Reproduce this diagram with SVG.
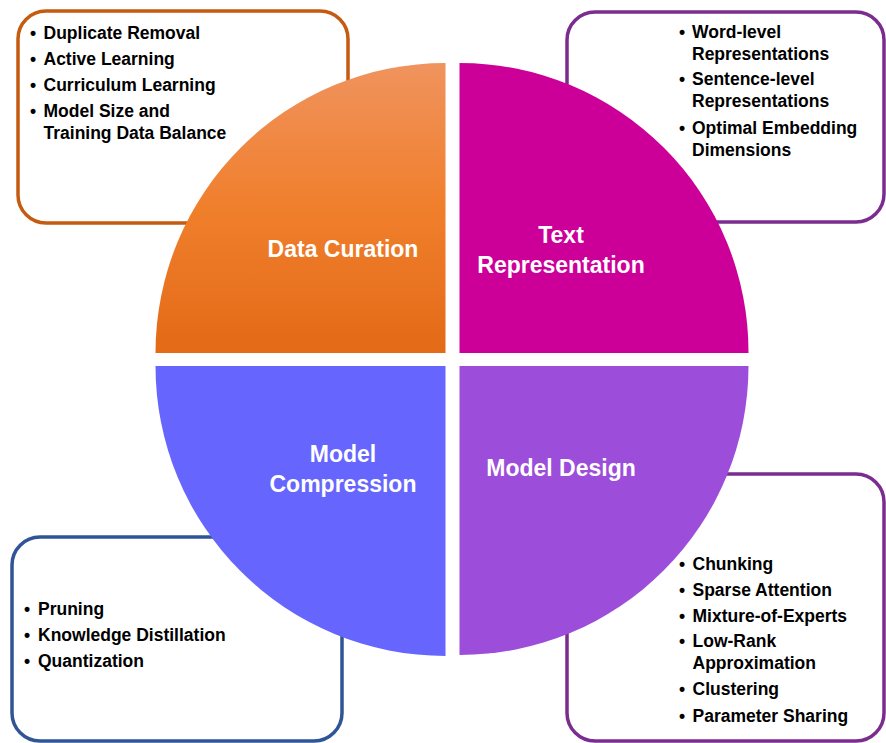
<svg xmlns="http://www.w3.org/2000/svg" width="886" height="743" viewBox="0 0 886 743">
<defs>
<linearGradient id="gOrange" x1="0" y1="63" x2="0" y2="353" gradientUnits="userSpaceOnUse">
<stop offset="0" stop-color="#F0935E"/>
<stop offset="0.5" stop-color="#F07F2C"/>
<stop offset="1" stop-color="#E36A17"/>
</linearGradient>
<style>
.box{fill:#FFFFFF;stroke-width:3.5}
.item{font-family:"Liberation Sans",Arial,sans-serif;font-weight:bold;font-size:17.5px;fill:#000000}
.bul{font-family:"Liberation Sans",Arial,sans-serif;font-weight:bold;font-size:17.5px;fill:#000000;text-anchor:middle}
.lbl{font-family:"Liberation Sans",Arial,sans-serif;font-weight:bold;font-size:23px;fill:#FFFFFF;text-anchor:middle}
</style>
</defs>
<rect x="0" y="0" width="886" height="743" fill="#FFFFFF"/>

<g id="box-data-curation">
<rect class="box" x="18" y="11" width="330" height="212" rx="28" stroke="#C55A11"/>
<text class="bul" x="33" y="38.5">•</text><text class="item" x="43.5" y="38.5">Duplicate Removal</text>
<text class="bul" x="33" y="64.5">•</text><text class="item" x="43.5" y="64.5">Active Learning</text>
<text class="bul" x="33" y="90.5">•</text><text class="item" x="43.5" y="90.5">Curriculum Learning</text>
<text class="bul" x="33" y="116.5">•</text><text class="item" x="43.5" y="116.5">Model Size and</text>
<text class="item" x="43.5" y="138.5">Training Data Balance</text>
</g>

<g id="box-text-representation">
<rect class="box" x="567" y="12" width="317" height="210" rx="28" stroke="#7A2D8F"/>
<text class="bul" x="682" y="37.5">•</text><text class="item" x="692" y="37.5">Word-level</text>
<text class="item" x="692" y="59.5">Representations</text>
<text class="bul" x="682" y="85">•</text><text class="item" x="692" y="85">Sentence-level</text>
<text class="item" x="692" y="107">Representations</text>
<text class="bul" x="682" y="133.5">•</text><text class="item" x="692" y="133.5">Optimal Embedding</text>
<text class="item" x="692" y="155.5">Dimensions</text>
</g>

<g id="box-model-compression">
<rect class="box" x="12" y="537" width="330" height="204" rx="28" stroke="#2F5597"/>
<text class="bul" x="27" y="615">•</text><text class="item" x="38" y="615">Pruning</text>
<text class="bul" x="27" y="641">•</text><text class="item" x="38" y="641">Knowledge Distillation</text>
<text class="bul" x="27" y="667">•</text><text class="item" x="38" y="667">Quantization</text>
</g>

<g id="box-model-design">
<rect class="box" x="567" y="474" width="317" height="267" rx="28" stroke="#7A2D8F"/>
<text class="bul" x="682" y="570">•</text><text class="item" x="692.5" y="570">Chunking</text>
<text class="bul" x="682" y="596">•</text><text class="item" x="692.5" y="596">Sparse Attention</text>
<text class="bul" x="682" y="621.5">•</text><text class="item" x="692.5" y="621.5">Mixture-of-Experts</text>
<text class="bul" x="682" y="647">•</text><text class="item" x="692.5" y="647">Low-Rank</text>
<text class="item" x="692.5" y="669">Approximation</text>
<text class="bul" x="682" y="695">•</text><text class="item" x="692.5" y="695">Clustering</text>
<text class="bul" x="682" y="721.5">•</text><text class="item" x="692.5" y="721.5">Parameter Sharing</text>
</g>

<g id="q-data-curation">
<path d="M445.5 353 L155.5 353 A290 290 0 0 1 445.5 63 Z" fill="url(#gOrange)"/>
<text class="lbl" x="343" y="257">Data Curation</text>
</g>

<g id="q-text-representation">
<path d="M459.5 353 L459.5 63 A289 289 0 0 1 748.5 353 Z" fill="#CC0099"/>
<text class="lbl" x="561" y="243">Text</text>
<text class="lbl" x="561" y="273">Representation</text>
</g>

<g id="q-model-compression">
<path d="M445.5 366 L445.5 656 A290 290 0 0 1 155.5 366 Z" fill="#6666FF"/>
<text class="lbl" x="343" y="462">Model</text>
<text class="lbl" x="343" y="492">Compression</text>
</g>

<g id="q-model-design">
<path d="M459.5 366 L748.5 366 A289 289 0 0 1 459.5 655 Z" fill="#9C4DD9"/>
<text class="lbl" x="561" y="476">Model Design</text>
</g>

<g id="connectors"></g>
</svg>
